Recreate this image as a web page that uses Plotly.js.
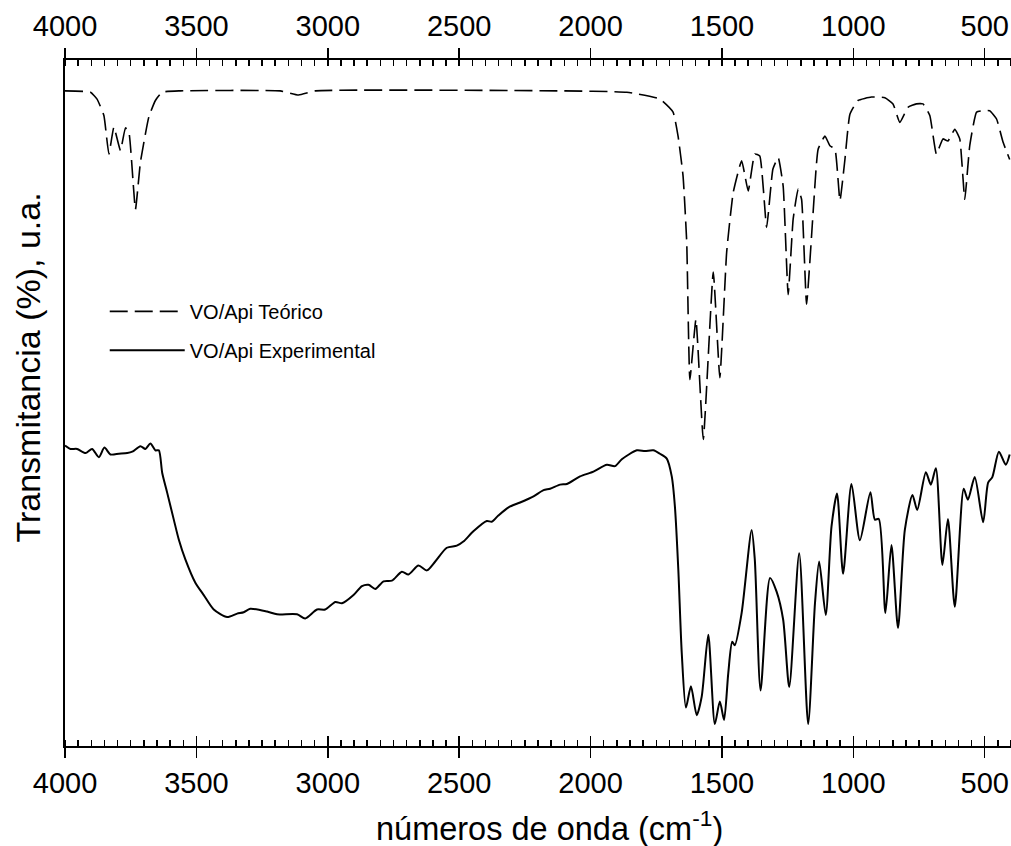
<!DOCTYPE html>
<html>
<head>
<meta charset="utf-8">
<script src="https://cdn.plot.ly/plotly-3.0.1.min.js"></script>
<style>html,body{margin:0;padding:0;background:#fff;}#chart{width:1011px;height:846px;}</style>
</head>
<body>
<div id="chart"></div>
<script>
// Theoretical spectrum (dashed)
const theoWavenumber = [4000,3903,3878,3852,3833,3814,3789,3770,3757,3732,
  3713,3681,3656,3630,3561,3181,3111,3047,2116,1862,
  1736,1686,1667,1648,1634,1622,1599,1571,1533,1508,
  1482,1457,1425,1400,1375,1356,1330,1306,1286,1267,
  1248,1229,1210,1197,1178,1153,1134,1108,1089,1070,
  1051,1032,1013,982,931,880,849,823,792,760,
  735,709,684,659,640,614,595,576,557,531,
  506,481,455,430,405];
const theoTransmittance = [95.5,95.3,94.3,91.9,86.3,90.2,86.8,90.1,89.5,78.2,
  85.1,91.7,94.1,95.3,95.5,95.5,94.9,95.5,95.5,95.3,
  94.3,92.4,88.9,83.1,73.4,53.4,62.2,44.7,69.1,53.7,
  72.0,80.7,85.3,80.9,86.3,86.0,75.6,84.1,85.8,81.6,
  65.8,76.8,81.2,79.7,64.4,77.8,87.0,88.9,87.5,87.0,
  79.5,85.5,92.1,94.1,94.6,94.5,93.6,90.9,93.1,93.6,
  93.6,91.9,86.3,88.5,88.2,89.9,88.5,79.7,87.5,92.4,
  92.6,92.6,91.4,88.0,85.5];

// Experimental spectrum (solid)
const expWavenumber = [4000,3979,3954,3922,3897,3871,3850,3827,3795,3763,
  3744,3713,3694,3675,3656,3643,3630,3611,3586,3567,
  3542,3504,3472,3434,3383,3345,3320,3295,3231,3193,
  3117,3086,3041,3010,2971,2946,2902,2870,2845,2819,
  2788,2756,2718,2693,2655,2623,2591,2547,2509,2484,
  2446,2395,2376,2351,2312,2268,2217,2179,2154,2116,
  2090,2040,1989,1938,1907,1881,1824,1793,1761,1736,
  1710,1691,1679,1666,1653,1637,1618,1596,1577,1552,
  1527,1508,1492,1476,1461,1451,1425,1387,1375,1353,
  1317,1292,1267,1244,1206,1172,1146,1130,1105,1083,
  1062,1039,1007,975,935,918,903,878,855,830,
  804,775,757,724,705,686,661,640,614,580,
  564,538,506,487,471,446,420,405];
const expTransmittance = [43.8,43.3,43.3,42.7,43.3,42.1,43.5,42.5,42.6,42.7,
  42.9,43.7,43.3,44.1,43.1,43.1,39.8,36.9,33.0,30.1,
  27.2,23.8,22.0,19.9,18.8,19.3,19.5,20.0,19.6,19.2,
  19.2,18.6,19.9,19.9,21.0,20.8,22.0,23.3,23.5,22.9,
  24.0,24.1,25.4,25.0,26.3,25.6,26.9,28.9,29.2,29.8,
  31.3,32.8,32.7,33.6,34.8,35.5,36.4,37.3,37.5,38.1,
  38.2,39.3,40.0,41.0,40.8,41.8,43.1,43.0,43.1,42.6,
  41.9,39.3,34.9,25.7,13.6,5.6,8.7,4.5,7.2,16.2,
  3.2,6.5,3.8,10.6,15.2,14.7,19.4,31.5,27.2,8.1,
  24.5,22.5,18.4,8.6,28.1,3.2,20.8,26.9,19.1,32.0,
  36.8,25.1,38.2,30.0,37.0,33.0,33.1,19.4,29.3,17.2,
  31.5,36.6,34.4,39.9,38.1,40.5,26.4,33.1,20.3,37.5,
  35.9,39.2,32.6,38.4,39.2,42.9,41.0,42.5];

const seriesNames = ['VO/Api Teórico', 'VO/Api Experimental'];
const xTitle = 'números de onda (cm<sup>-1</sup>)';
const yTitle = 'Transmitancia (%), u.a.';
const xRange = [4000, 400];

const FONT = 'Liberation Sans, Arial, Helvetica, sans-serif';

const traces = [
  {x: theoWavenumber, y: theoTransmittance, type: 'scatter', mode: 'lines',
   name: seriesNames[0], legendgroup: 'a',
   line: {color: '#000', width: 1.6, dash: '18px,7px', shape: 'spline', smoothing: 0.4}},
  {x: expWavenumber, y: expTransmittance, type: 'scatter', mode: 'lines',
   name: seriesNames[1], legendgroup: 'b',
   line: {color: '#000', width: 2, shape: 'spline', smoothing: 0.7}},
  // invisible carriers so the top axis and the inner major ticks are drawn
  {x: expWavenumber, y: expTransmittance, xaxis: 'x2', type: 'scatter', mode: 'lines',
   showlegend: false, hoverinfo: 'skip', line: {color: 'rgba(0,0,0,0)', width: 0}},
  {x: expWavenumber, y: expTransmittance, xaxis: 'x3', type: 'scatter', mode: 'lines',
   showlegend: false, hoverinfo: 'skip', line: {color: 'rgba(0,0,0,0)', width: 0}}
];

const common = {range: xRange, autorange: false, showgrid: false, zeroline: false, tick0: 0, dtick: 500,
  tickcolor: '#000', tickwidth: 1.5, linecolor: '#000'};

const layout = {
  width: 1011, height: 846,
  margin: {l: 65, r: 0, t: 60, b: 100},
  paper_bgcolor: '#fff', plot_bgcolor: '#fff',
  font: {family: FONT, color: '#000'},
  showlegend: true,
  legend: {x: 0.042, y: 0.662, xanchor: 'left', yanchor: 'top', font: {size: 20, family: FONT},
    itemwidth: 75, bgcolor: 'rgba(0,0,0,0)', traceorder: 'grouped', tracegroupgap: 10},
  xaxis: Object.assign({}, common, {
    side: 'bottom', anchor: 'y', showline: true, linewidth: 2,
    ticks: 'outside', ticklen: 10, tickfont: {size: 29, family: FONT},
    minor: {dtick: 50, ticks: 'inside', ticklen: 6, tickwidth: 1.5, tickcolor: '#000', showgrid: false}
  }),
  xaxis2: Object.assign({}, common, {
    overlaying: 'x', side: 'top', anchor: 'y', showline: true, linewidth: 2,
    ticks: 'outside', ticklen: 10, tickfont: {size: 29, family: FONT},
    minor: {dtick: 50, ticks: 'inside', ticklen: 6, tickwidth: 1.5, tickcolor: '#000', showgrid: false}
  }),
  xaxis3: Object.assign({}, common, {
    overlaying: 'x', side: 'bottom', anchor: 'y', showline: false,
    ticks: 'inside', ticklen: 10, showticklabels: false
  }),
  yaxis: {range: [0, 100], showgrid: false, zeroline: false, showline: true, linewidth: 2,
    linecolor: '#000', mirror: true, ticks: '', showticklabels: false},
  annotations: [
    {text: yTitle, xref: 'paper', yref: 'paper', x: -0.0396, y: 0.551, textangle: -90,
     showarrow: false, xanchor: 'center', yanchor: 'middle', font: {size: 34, family: FONT}},
    {text: xTitle, xref: 'paper', yref: 'paper', x: 0.512, y: -0.117,
     showarrow: false, xanchor: 'center', yanchor: 'middle', font: {size: 32.5, family: FONT}}
  ]
};

Plotly.newPlot('chart', traces, layout, {staticPlot: true, displayModeBar: false});
</script>
</body>
</html>
